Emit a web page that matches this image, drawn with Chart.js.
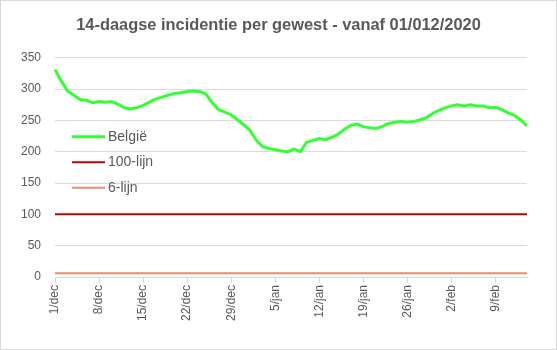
<!DOCTYPE html>
<html>
<head>
<meta charset="utf-8">
<script src="https://cdn.jsdelivr.net/npm/chart.js@4/dist/chart.umd.min.js"></script>
<style>
html,body{margin:0;padding:0;background:#fff;}
#wrap{width:557px;height:350px;position:relative;}
</style>
</head>
<body>
<div id="wrap"><canvas id="c" width="557" height="350"></canvas></div>
<script>
const titleText = "14-daagse incidentie per gewest - vanaf 01/012/2020";
const labels = [
 "1/dec","2/dec","3/dec","4/dec","5/dec","6/dec","7/dec","8/dec","9/dec","10/dec",
 "11/dec","12/dec","13/dec","14/dec","15/dec","16/dec","17/dec","18/dec","19/dec","20/dec",
 "21/dec","22/dec","23/dec","24/dec","25/dec","26/dec","27/dec","28/dec","29/dec","30/dec","31/dec",
 "1/jan","2/jan","3/jan","4/jan","5/jan","6/jan","7/jan","8/jan","9/jan","10/jan",
 "11/jan","12/jan","13/jan","14/jan","15/jan","16/jan","17/jan","18/jan","19/jan","20/jan",
 "21/jan","22/jan","23/jan","24/jan","25/jan","26/jan","27/jan","28/jan","29/jan","30/jan","31/jan",
 "1/feb","2/feb","3/feb","4/feb","5/feb","6/feb","7/feb","8/feb","9/feb","10/feb",
 "11/feb","12/feb","13/feb","14/feb"
];
const belgie = [
 331,313,297,290,283,282,278,280,279,280,
 276,270,268,270,274,279,284,287,290,293,
 294,296,297,296,292,278,267,263,259,251,
 243,234,218,208,205,203,201,200,204,200,
 215,218,221,219,223,228,236,242,244,240,
 238,237,240,245,247,248,247,248,251,254,
 261,266,270,273,275,273,275,273,273,270,
 271,267,262,258,251,241
];
const lijn100 = labels.map(() => 100);
const lijn6 = labels.map(() => 6);
const seriesNames = ["België","100-lijn","6-lijn"];
const yTicks = [0,50,100,150,200,250,300,350];

const frame = {
  id: 'frame',
  beforeDraw(chart) {
    const ctx = chart.ctx;
    ctx.save();
    ctx.fillStyle = '#fff';
    ctx.fillRect(0,0,chart.width,chart.height);
    ctx.strokeStyle = '#d9d9d9';
    ctx.lineWidth = 1;
    ctx.strokeRect(0.5,0.5,chart.width-1,chart.height-1);
    ctx.restore();
  }
};
const inLegend = {
  id: 'inLegend',
  afterDraw(chart) {
    const ctx = chart.ctx;
    const a = chart.chartArea;
    ctx.save();
    ctx.font = '14px "Liberation Sans", Arial, sans-serif';
    ctx.textBaseline = 'middle';
    chart.data.datasets.forEach((ds, i) => {
      const y = a.top + 79 + i * 25.5;
      const x0 = a.left + 17;
      ctx.strokeStyle = ds.borderColor;
      ctx.lineWidth = ds.borderWidth;
      ctx.beginPath();
      ctx.moveTo(x0, y);
      ctx.lineTo(x0 + 33, y);
      ctx.stroke();
      ctx.fillStyle = '#595959';
      ctx.fillText(ds.label, x0 + 36, y);
    });
    ctx.restore();
  }
};

new Chart(document.getElementById('c'), {
  type: 'line',
  data: {
    labels: labels,
    datasets: [
      {label: seriesNames[0], data: belgie, borderColor: '#33ff33', borderWidth: 3, pointRadius: 0, tension: 0},
      {label: seriesNames[1], data: lijn100, borderColor: '#c00000', borderWidth: 2, pointRadius: 0},
      {label: seriesNames[2], data: lijn6, borderColor: '#f08a68', borderWidth: 2, pointRadius: 0}
    ]
  },
  options: {
    responsive: false,
    animation: false,
    layout: {padding: {left: 0, right: 0, top: 0, bottom: 0}},
    plugins: {
      legend: {display: false},
      tooltip: {enabled: false},
      title: {
        display: true,
        text: titleText,
        color: '#595959',
        font: {family: '"Liberation Sans", Arial, sans-serif', size: 16.4, weight: 'bold'},
        padding: {top: 16, bottom: 22}
      }
    },
    scales: {
      x: {
        offset: false,
        border: {color: '#d9d9d9'},
        grid: {
          drawOnChartArea: false,
          drawTicks: true,
          tickLength: 6,
          color: (c) => (c.index % 7 === 0 ? '#d9d9d9' : 'rgba(0,0,0,0)')
        },
        ticks: {
          autoSkip: false,
          maxRotation: 90,
          minRotation: 90,
          padding: 2,
          color: '#595959',
          font: {family: '"Liberation Sans", Arial, sans-serif', size: 12},
          callback: function(v, i) { return i % 7 === 0 ? labels[i] : ''; }
        },
        afterFit: (s) => { s.height = 73; }
      },
      y: {
        min: 0, max: 350,
        border: {display: false},
        grid: {color: '#d9d9d9', drawTicks: false},
        afterBuildTicks: (s) => { s.ticks = yTicks.map(v => ({value: v})); },
        ticks: {
          padding: 14,
          color: '#595959',
          font: {family: '"Liberation Sans", Arial, sans-serif', size: 12}
        },
        afterFit: (s) => { s.width = 55; }
      },
      yRight: {
        position: 'right',
        min: 0, max: 350,
        border: {display: false},
        grid: {display: false, drawTicks: false},
        ticks: {display: false},
        afterFit: (s) => { s.width = 30; }
      }
    }
  },
  plugins: [frame, inLegend]
});
</script>
</body>
</html>
